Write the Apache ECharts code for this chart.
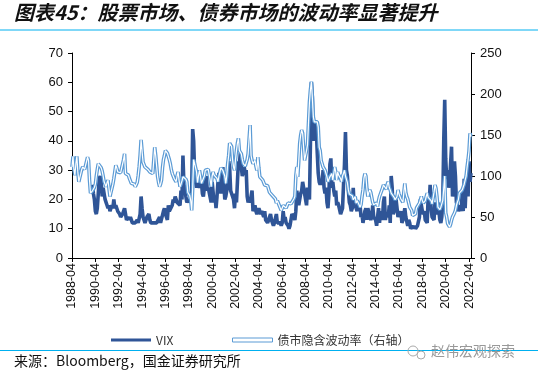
<!DOCTYPE html>
<html>
<head>
<meta charset="utf-8">
<script src="https://cdn.jsdelivr.net/npm/echarts@6/dist/echarts.min.js"></script>
<style>
html,body{margin:0;padding:0;background:#fff;}
#chart{width:538px;height:377px;}
</style>
</head>
<body>
<div id="chart"></div>
<script>
// month labels 1988-04 ... 2022-06
var months = [];
for (var y = 1988; y <= 2022; y++) {
  for (var m = 1; m <= 12; m++) {
    if (y === 1988 && m < 4) continue;
    if (y === 2022 && m > 6) break;
    months.push(y + '-' + (m < 10 ? '0' + m : m));
  }
}

// VIX, month end (left axis) - starts 1990-01
var vix = [
  null,null,null,null,null,null,null,null,null,          // 1988
  null,null,null,null,null,null,null,null,null,null,null,null, // 1989
  25,22,20,16,15,17,22,27,28,26,21,24,   // 1990
  24,20,19,18,17,18,16,17,18,17,20,17,   // 1991
  18,17,16,16,15,14,14,15,15,17,15,13,   // 1992
  13,14,13,14,13,12,12,12,12,12,13,12,   // 1993
  12,15,21,17,14,14,12,13,14,14,15,13,   // 1994
  12,12,12,12,12,12,12,12,12,14,12,12,   // 1995
  12,16,17,15,14,13,18,16,16,16,18,20,   // 1996
  19,21,21,19,19,19,18,23,20,35,25,24,   // 1997
  21,19,19,20,19,19,23,44,40,29,26,24,   // 1998
  26,25,24,27,26,22,21,24,24,28,23,24,   // 1999
  24,24,19,26,26,19,21,17,21,26,29,26,   // 2000
  22,24,31,26,20,21,21,25,33,31,23,23,   // 2001
  21,20,17,22,19,26,33,32,36,31,28,28,   // 2002
  31,29,30,21,19,20,19,19,23,16,16,18,   // 2003
  16,15,16,17,16,15,16,15,14,16,13,13,   // 2004
  12,12,14,15,13,12,11,12,12,15,12,12,   // 2005
  12,12,11,12,16,13,14,12,12,11,10,11,   // 2006
  11,15,15,14,13,16,23,23,18,18,22,23,   // 2007
  26,26,26,20,18,24,22,20,39,60,55,40,   // 2008
  44,46,44,36,29,26,25,26,25,30,24,22,   // 2009
  24,19,17,22,32,34,24,26,23,21,23,18,   // 2010
  19,18,18,15,16,17,25,32,43,30,28,23,   // 2011
  19,18,16,17,24,17,18,17,16,19,16,18,   // 2012
  14,15,12,14,16,17,13,17,17,14,13,14,   // 2013
  18,14,14,13,11,11,17,12,16,14,13,19,   // 2014
  21,13,15,15,14,18,12,28,24,15,16,18,   // 2015
  20,20,14,15,14,16,12,13,13,17,14,14,   // 2016
  11,13,12,10,10,11,10,11,10,10,11,11,   // 2017
  14,20,20,16,15,16,13,13,12,21,18,25,   // 2018
  17,14,14,13,19,15,16,19,16,13,12,14,   // 2019
  19,40,54,34,27,30,24,26,26,38,21,23,   // 2020
  33,28,19,18,16,16,18,16,23,16,27,17,   // 2021
  25,30,21,33,26,29                      // 2022
];

// 债市隐含波动率 (right axis)
var bond = [
  111,124,108,101,115,124,105,93,98,     // 1988
  103,108,111,109,108,107,118,123,119,95,79,80,   // 1989
  82,84,86,90,100,108,115,114,113,110,106,100,    // 1990
  93,90,87,92,95,85,75,80,85,90,97,105,           // 1991
  113,110,105,104,105,104,103,103,120,127,103,103, // 1992
  104,101,97,95,91,89,92,90,87,89,92,100,         // 1993
  111,125,144,130,117,115,111,110,109,108,106,105, // 1994
  104,103,103,105,135,125,112,99,92,87,90,95,     // 1995
  110,120,125,131,130,128,127,120,115,108,103,100, // 1996
  97,95,93,100,105,95,87,90,94,99,99,99,          // 1997
  96,93,80,79,76,70,58,85,120,122,119,105,        // 1998
  92,100,107,100,91,91,91,100,107,108,109,108,    // 1999
  107,95,87,100,105,101,101,102,97,93,100,105,    // 2000
  110,111,107,106,100,91,100,115,125,140,138,136, // 2001
  120,111,107,120,131,140,146,131,129,127,120,115, // 2002
  113,112,113,120,127,145,162,125,119,115,117,119, // 2003
  112,107,123,110,99,97,98,95,92,89,90,90,        // 2004
  88,87,80,79,78,76,75,76,72,67,70,68,            // 2005
  64,62,58,60,64,63,62,61,64,67,68,69,            // 2006
  66,64,66,72,75,100,111,99,118,140,150,156,      // 2007
  152,135,119,125,131,138,140,190,205,215,195,172, // 2008
  166,165,164,166,160,135,131,119,115,111,109,107, // 2009
  103,99,93,91,99,101,103,95,93,111,105,95,       // 2010
  105,101,103,97,93,100,103,107,100,100,92,83,    // 2011
  78,77,79,76,71,73,75,67,70,68,65,62,            // 2012
  65,75,83,97,103,100,85,75,80,83,80,78,          // 2013
  68,65,63,65,67,63,70,75,77,74,85,89,            // 2014
  91,90,84,90,93,86,83,79,77,77,74,71,            // 2015
  73,75,83,78,75,72,70,68,80,91,80,75,            // 2016
  72,70,62,60,58,52,50,52,54,61,62,60,            // 2017
  67,67,75,70,67,66,70,75,79,74,73,75,            // 2018
  70,66,64,80,89,85,75,62,60,59,62,64,            // 2019
  70,68,100,55,50,42,40,38,41,46,50,52,           // 2020
  55,58,64,68,71,79,78,77,83,85,90,95,            // 2021
  100,111,120,131,152,148                         // 2022
];

var leftTicks = [0, 70, 10];
var rightTicks = [0, 250, 50];

var vixName = 'VIX';
var bondName = '债市隐含波动率（右轴）';
var titleText = '图表45：股票市场、债券市场的波动率显著提升';
var sourceText = '来源：Bloomberg，国金证券研究所';

var chart = echarts.init(document.getElementById('chart'));

var option = {
  backgroundColor: '#fff',
  animation: false,
  textStyle: { fontFamily: 'Liberation Sans, Arial, sans-serif' },
  grid: { left: 72, right: 67, top: 53, bottom: 119 },
  legend: [
    {
      data: [{ name: vixName, itemStyle: { color: '#2F5597' } }],
      left: 106, top: 329,
      icon: 'rect', itemWidth: 40, itemHeight: 3,
      textStyle: { fontSize: 12, color: '#333', fontFamily: 'Noto Sans CJK SC' }
    },
    {
      data: [{ name: bondName, itemStyle: { color: '#fff', borderColor: '#5B9BD5', borderWidth: 1 } }],
      left: 227, top: 329,
      icon: 'rect', itemWidth: 40, itemHeight: 4,
      textStyle: { fontSize: 12, color: '#333', fontFamily: 'Noto Sans CJK SC' }
    }
  ],
  xAxis: {
    type: 'category',
    data: months,
    boundaryGap: false,
    axisLine: { lineStyle: { color: '#000', width: 1 } },
    axisTick: { interval: 23, length: 4, lineStyle: { color: '#000' } },
    axisLabel: { interval: 23, rotate: 90, margin: 5, fontSize: 12.5, color: '#111' },
    splitLine: { show: false }
  },
  yAxis: [
    {
      type: 'value', min: leftTicks[0], max: leftTicks[1], interval: leftTicks[2],
      axisLine: { show: true, lineStyle: { color: '#000' } },
      axisTick: { show: true, length: 4, lineStyle: { color: '#000' } },
      axisLabel: { fontSize: 13, color: '#111', margin: 9 },
      splitLine: { show: false }
    },
    {
      type: 'value', min: rightTicks[0], max: rightTicks[1], interval: rightTicks[2],
      position: 'right',
      axisLine: { show: true, lineStyle: { color: '#000' } },
      axisTick: { show: true, length: 4, lineStyle: { color: '#000' } },
      axisLabel: { fontSize: 13, color: '#111', margin: 9 },
      splitLine: { show: false }
    }
  ],
  series: [
    {
      name: vixName, type: 'line', data: vix, yAxisIndex: 0,
      showSymbol: false, symbol: 'none',
      lineStyle: { color: '#2F5597', width: 3.6 },
      itemStyle: { color: '#2F5597' }
    },
    {
      name: bondName, type: 'line', data: bond, yAxisIndex: 1,
      showSymbol: false, symbol: 'none',
      lineStyle: { color: '#5B9BD5', width: 3.6 },
      itemStyle: { color: '#5B9BD5' }
    },
    {
      name: 'bondInner', type: 'line', data: bond, yAxisIndex: 1,
      showSymbol: false, symbol: 'none',
      lineStyle: { color: '#fff', width: 1.2 },
      itemStyle: { color: '#fff' }
    }
  ],
  graphic: [
    {
      type: 'text', left: 14, top: 2,
      style: {
        text: titleText, fill: '#111',
        font: 'italic bold 20px "Noto Sans CJK SC"'
      }
    },
    { type: 'line', shape: { x1: 0, y1: 30, x2: 538, y2: 30 }, style: { stroke: '#00B0F0', lineWidth: 1 } },
    { type: 'line', shape: { x1: 0, y1: 350.5, x2: 538, y2: 350.5 }, style: { stroke: '#00B0F0', lineWidth: 1 } },
    {
      type: 'text', left: 14, top: 354,
      style: { text: sourceText, fill: '#111', font: '14px "Noto Sans CJK SC"' }
    },
    { type: 'circle', shape: { cx: 413, cy: 351, r: 5 }, style: { fill: 'none', stroke: '#aaa', lineWidth: 1 } },
    { type: 'circle', shape: { cx: 421, cy: 355, r: 4 }, style: { fill: '#fff', stroke: '#aaa', lineWidth: 1 } },
    {
      type: 'text', left: 431, top: 344,
      style: { text: '赵伟宏观探索', fill: '#999', font: '14px "Noto Sans CJK SC"' }
    }
  ]
};

chart.setOption(option);
</script>
</body>
</html>
